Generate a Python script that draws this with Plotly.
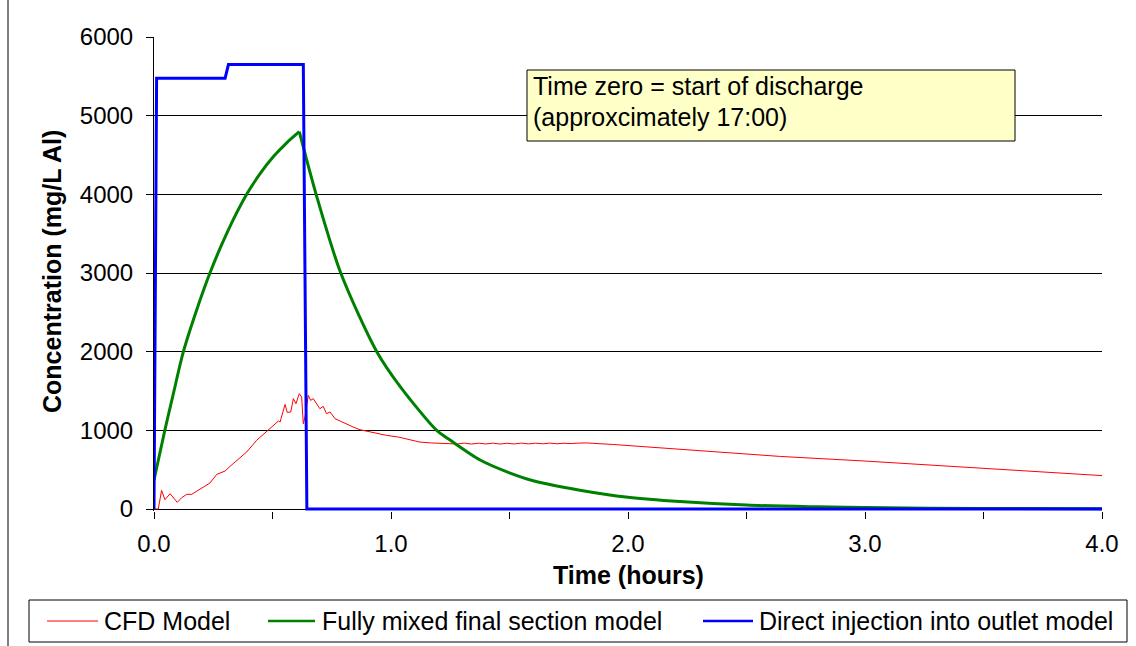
import plotly.graph_objects as go

# ---- data -----------------------------------------------------------------
# CFD model (hours, mg/L Al)
cfd_t = [0.0, 0.018, 0.032, 0.046, 0.068, 0.081, 0.098, 0.117, 0.138, 0.159,
         0.180, 0.208, 0.236, 0.265, 0.300, 0.321, 0.356, 0.391, 0.433, 0.476,
         0.525, 0.532, 0.543, 0.553, 0.562, 0.577, 0.588, 0.599, 0.613, 0.623,
         0.630, 0.637, 0.651, 0.661, 0.672, 0.686, 0.700, 0.714, 0.728, 0.743,
         0.764, 0.785, 0.813, 0.841, 0.869, 0.897, 0.925, 0.954, 0.982, 1.031,
         1.080, 1.122, 1.170, 1.220, 1.250, 1.280, 1.310, 1.340, 1.370, 1.400,
         1.430, 1.460, 1.490, 1.520, 1.550, 1.580, 1.610, 1.640, 1.670, 1.700,
         1.730, 1.760, 1.790, 1.826, 1.940, 2.220, 2.640, 3.000, 3.500, 4.000]
cfd_c = [0, 0, 237, 119, 195, 153, 85, 144, 187, 187,
         225, 271, 331, 441, 483, 543, 640, 725, 873, 992,
         1119, 1106, 1220, 1330, 1229, 1233, 1403, 1339, 1466, 1424,
         1084, 1169, 1445, 1381, 1403, 1339, 1275, 1305, 1212, 1233,
         1148, 1119, 1076, 1042, 1008, 991, 966, 949, 936, 915,
         885, 851, 840, 832, 836, 827, 838, 826, 837, 827,
         838, 826, 836, 827, 838, 828, 837, 829, 838, 830,
         836, 832, 838, 840, 820, 757, 669, 610, 515, 425]

# Fully mixed final section model: filling phase, then flushing phase
mix_rise_t = [0.0, 0.046, 0.082, 0.124, 0.180, 0.236, 0.307, 0.391, 0.447, 0.504,
              0.560, 0.613]
mix_rise_c = [369, 1004, 1470, 2000, 2530, 3000, 3505, 4000, 4260, 4480,
              4655, 4796]
mix_fall_t = [0.613, 0.684, 0.788, 0.940, 1.038, 1.193, 1.249, 1.376, 1.500,
              1.600, 1.797, 2.000, 2.219, 2.500, 2.800, 3.000, 3.500, 4.000]
mix_fall_c = [4796, 4000, 3000, 2000, 1560, 1000, 877, 623, 460,
              360, 240, 150, 95, 50, 28, 18, 7, 3]

# Direct injection into outlet model
inj_t = [0.0, 0.011, 0.300, 0.314, 0.630, 0.645, 4.0]
inj_c = [0, 5475, 5475, 5650, 5650, 0, 0]

x_ticks = [0.0, 0.5, 1.0, 1.5, 2.0, 2.5, 3.0, 3.5, 4.0]
x_tick_text = ["0.0", "", "1.0", "", "2.0", "", "3.0", "", "4.0"]
y_ticks = [0, 1000, 2000, 3000, 4000, 5000, 6000]

series_names = ["CFD Model", "Fully mixed final section model",
                "Direct injection into outlet model"]
series_colors = ["#FF0000", "#008000", "#0000FF"]

note_lines = ["Time zero = start of discharge", "(approxcimately 17:00)"]

# ---- layout geometry (pixels) ---------------------------------------------
W, H = 1136, 646
ML, MR, MT, MB = 154, 34, 37, 135
FONT = "Liberation Sans, Arial, sans-serif"


def px(x):
    return (x - ML) / (W - ML - MR)


def py(y):
    return (H - MB - y) / (H - MT - MB)


fig = go.Figure()
fig.add_trace(go.Scatter(x=cfd_t, y=cfd_c, mode="lines", name=series_names[0],
                         line=dict(color=series_colors[0], width=1)))
fig.add_trace(go.Scatter(x=mix_rise_t, y=mix_rise_c, mode="lines", name=series_names[1],
                         line=dict(color=series_colors[1], width=3, shape="spline",
                                   smoothing=0.8)))
fig.add_trace(go.Scatter(x=mix_fall_t, y=mix_fall_c, mode="lines", name=series_names[1],
                         line=dict(color=series_colors[1], width=3, shape="spline",
                                   smoothing=0.8)))
fig.add_trace(go.Scatter(x=inj_t, y=inj_c, mode="lines", name=series_names[2],
                         line=dict(color=series_colors[2], width=3)))

shapes = []
annotations = []

# outer chart frame (left edge)
shapes.append(dict(type="line", xref="paper", yref="paper",
                   x0=px(8), x1=px(8), y0=py(0), y1=py(H),
                   line=dict(color="black", width=1)))

# note box
shapes.append(dict(type="rect", xref="paper", yref="paper",
                   x0=px(527), x1=px(1015), y0=py(70), y1=py(141),
                   fillcolor="#FFFFC8", line=dict(color="black", width=1)))
for i, line in enumerate(note_lines):
    annotations.append(dict(xref="paper", yref="paper", x=px(531), y=py(86 + 31 * i),
                            xanchor="left", yanchor="middle", text=line,
                            showarrow=False, font=dict(family=FONT, size=25, color="black")))

# legend box with entries
shapes.append(dict(type="rect", xref="paper", yref="paper",
                   x0=px(29), x1=px(1127), y0=py(600), y1=py(642),
                   fillcolor="white", line=dict(color="black", width=1)))
legend_line_x = [(47, 98), (268, 315), (703, 753)]
legend_text_x = [102, 320, 757]
legend_line_w = [1, 2.5, 2.5]
for (a, b), tx, name, col, lw in zip(legend_line_x, legend_text_x, series_names,
                                     series_colors, legend_line_w):
    shapes.append(dict(type="line", xref="paper", yref="paper",
                       x0=px(a), x1=px(b), y0=py(621), y1=py(621),
                       line=dict(color=col, width=lw)))
    annotations.append(dict(xref="paper", yref="paper", x=px(tx), y=py(621),
                            xanchor="left", yanchor="middle", text=name,
                            showarrow=False, font=dict(family=FONT, size=25, color="black")))

# axis titles
annotations.append(dict(xref="paper", yref="paper", x=px(628), y=py(575),
                        xanchor="center", yanchor="middle", text="<b>Time (hours)</b>",
                        showarrow=False, font=dict(family=FONT, size=25, color="black")))
annotations.append(dict(xref="paper", yref="paper", x=px(52), y=py(272),
                        xanchor="center", yanchor="middle", textangle=-90,
                        text="<b>Concentration (mg/L Al)</b>",
                        showarrow=False, font=dict(family=FONT, size=25, color="black")))

fig.update_layout(
    width=W, height=H,
    margin=dict(l=ML, r=MR, t=MT, b=MB, autoexpand=False),
    paper_bgcolor="white", plot_bgcolor="white",
    font=dict(family=FONT, size=24, color="black"),
    shapes=shapes, annotations=annotations,
    showlegend=False,
    xaxis=dict(range=[0, 4], tickvals=x_ticks, ticktext=x_tick_text,
               ticks="outside", ticklen=7, tickcolor="black", tickwidth=1,
               showline=False, showgrid=False, zeroline=False,
               ticklabelstandoff=4, tickfont=dict(family=FONT, size=24)),
    yaxis=dict(range=[-25, 6000], tickvals=y_ticks,
               ticks="outside", ticklen=7, tickcolor="black", tickwidth=1,
               showline=True, linecolor="black", linewidth=1,
               showgrid=True, gridcolor="black", gridwidth=1,
               zeroline=True, zerolinecolor="black", zerolinewidth=1,
               ticklabelstandoff=8, tickfont=dict(family=FONT, size=24)),
)

fig.write_html("out.html")
